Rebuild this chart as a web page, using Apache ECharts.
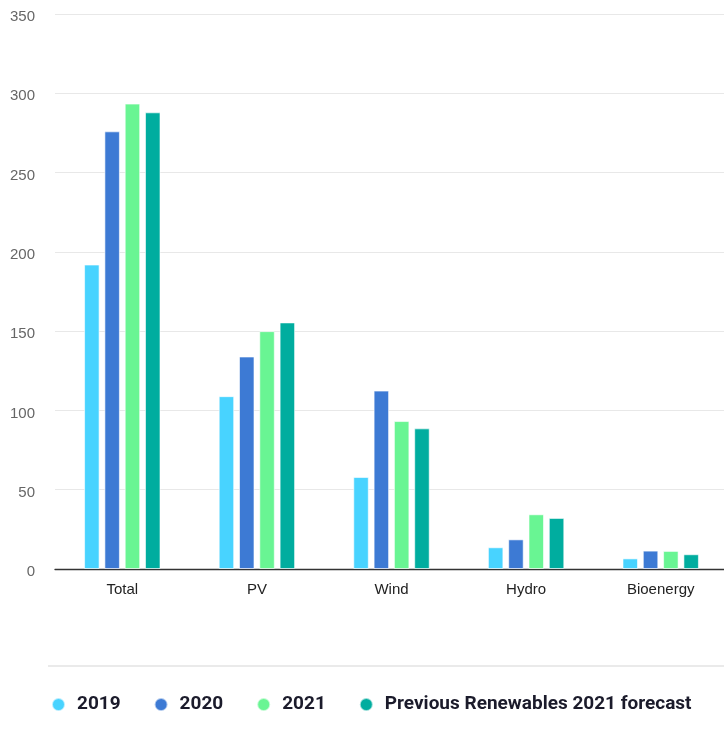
<!DOCTYPE html>
<html>
<head>
<meta charset="utf-8">
<script src="https://cdn.jsdelivr.net/npm/echarts@6/dist/echarts.min.js"></script>
<style>
  html, body { margin: 0; padding: 0; background: #fff; }
  #chart { width: 724px; height: 735px; }
</style>
</head>
<body>
<div id="chart"></div>
<script>
// Renewable capacity additions by technology (GW)
const categories = ['Total', 'PV', 'Wind', 'Hydro', 'Bioenergy'];
const values2019 = [192, 109, 58, 13.7, 6.7];
const values2020 = [276, 134, 112.5, 18.7, 11.6];
const values2021 = [293.5, 150, 93.3, 34.5, 11.4];
const valuesForecast = [288, 155.5, 88.7, 32.2, 9.3];
const seriesNames = ['2019', '2020', '2021', 'Previous Renewables 2021 forecast'];
const yTicks = [0, 50, 100, 150, 200, 250, 300, 350];

const colors = ['#48d3ff', '#3d7ad4', '#69f593', '#00ad9f'];

const chart = echarts.init(document.getElementById('chart'));

const seriesData = [values2019, values2020, values2021, valuesForecast];

chart.setOption({
  animation: false,
  grid: {
    left: 55, width: 673, top: 14, bottom: 166,
    containLabel: false, outerBoundsMode: 'none'
  },
  legend: {
    top: 695,
    left: 51,
    padding: 0,
    icon: 'circle',
    itemWidth: 13,
    itemHeight: 13,
    itemGap: 33,
    textStyle: {
      fontFamily: 'Roboto', fontWeight: 'bold', fontSize: 19, color: '#1b1b2b',
      padding: [0, 0, 0, 7]
    },
    data: seriesNames
  },
  xAxis: {
    type: 'category',
    data: categories,
    axisLine: { lineStyle: { color: '#333', width: 1.3 } },
    axisTick: { length: 10, lineStyle: { color: '#333', width: 1.3 } },
    axisLabel: { color: '#222', fontSize: 15, fontFamily: 'Liberation Sans', margin: 13 }
  },
  yAxis: {
    type: 'value',
    min: yTicks[0],
    max: yTicks[yTicks.length - 1],
    interval: 50,
    axisLine: { show: false },
    axisTick: { show: false },
    splitLine: { lineStyle: { color: '#e8e8e8', width: 1 } },
    axisLabel: {
      margin: 20,
      formatter: '{v|{value}}',
      rich: {
        v: { color: '#666', fontSize: 15, fontFamily: 'Liberation Sans', padding: [6, 0, 0, 0] }
      }
    }
  },
  series: seriesNames.map((name, i) => ({
    name,
    type: 'bar',
    data: seriesData[i],
    barWidth: 15.5,
    barGap: '31%',
    itemStyle: { color: colors[i], borderColor: 'rgba(255,255,255,0.6)', borderWidth: 1 }
  })),
  graphic: [{
    type: 'line',
    shape: { x1: 48, y1: 666, x2: 724, y2: 666 },
    style: { stroke: '#e3e3e3', lineWidth: 1.5 }
  }]
});
</script>
</body>
</html>
